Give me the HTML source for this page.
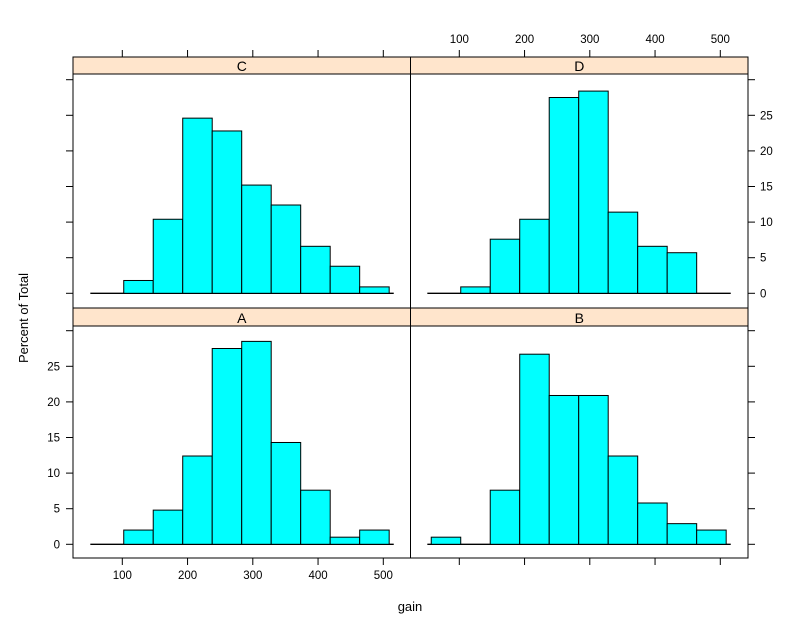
<!DOCTYPE html>
<html><head><meta charset="utf-8">
<style>
html,body{margin:0;padding:0;background:#fff;}
svg{display:block;font-family:"Liberation Sans",Arial,sans-serif;}
</style></head>
<body>
<svg id="chart" width="800" height="637" viewBox="0 0 800 637" xmlns="http://www.w3.org/2000/svg">
<text x="28" y="318" font-size="13" text-anchor="middle" transform="rotate(-90 28 318)">Percent of Total</text>
<text x="410" y="611" font-size="13" text-anchor="middle">gain</text>
</svg>
<script>
const breaks = [57, 102.2, 147.4, 192.6, 237.8, 283, 328.2, 373.4, 418.6, 463.8, 509];
const panelNames = ["C", "D", "A", "B"];
const valuesC = [0, 1.8, 10.4, 24.6, 22.8, 15.2, 12.4, 6.6, 3.8, 0.9];
const valuesD = [0, 0.9, 7.6, 10.4, 27.5, 28.4, 11.4, 6.6, 5.7, 0];
const valuesA = [0, 2.0, 4.8, 12.4, 27.5, 28.5, 14.3, 7.6, 1.0, 2.0];
const valuesB = [1.0, 0, 7.6, 26.7, 20.9, 20.9, 12.4, 5.8, 2.9, 2.0];
const xTicks = [100, 200, 300, 400, 500];
const yTicks = [0, 5, 10, 15, 20, 25, 30];
const yTickLabels = ["0", "5", "10", "15", "20", "25"];

const svg = document.getElementById('chart');
const NS = 'http://www.w3.org/2000/svg';
function mk(tag, attrs, parent) {
  const e = document.createElementNS(NS, tag);
  for (const k in attrs) e.setAttribute(k, attrs[k]);
  (parent || svg).appendChild(e);
  return e;
}
const panels = [
  {name: "C", vals: valuesC, x0: 73, x1: 410.5, sTop: 57, pTop: 74, pBot: 308, zeroY: 293.3},
  {name: "D", vals: valuesD, x0: 410.5, x1: 748, sTop: 57, pTop: 74, pBot: 308, zeroY: 293.3},
  {name: "A", vals: valuesA, x0: 73, x1: 410.5, sTop: 308, pTop: 326, pBot: 558, zeroY: 544.3},
  {name: "B", vals: valuesB, x0: 410.5, x1: 748, sTop: 308, pTop: 326, pBot: 558, zeroY: 544.3}
];
const pxPerUnitX = 0.6525, pxPerUnitY = 7.12;
panels.forEach((p, pi) => {
  const g = mk('g', {});
  
  
  const xBase = (pi % 2 === 0) ? 122.3 : 459.3;
  const xs = v => xBase + (v - 100) * pxPerUnitX;
  const ys = v => p.zeroY - v * pxPerUnitY;
  const strip = mk('rect', {x: p.x0, y: p.sTop, width: p.x1 - p.x0, height: p.pTop - p.sTop, fill: '#ffe5cc', stroke: '#000', 'stroke-width': 1}, g);
  
  
  const st = mk('text', {x: (p.x0 + p.x1) / 2, y: p.pTop - 3, 'font-size': 14, 'text-anchor': 'middle'}, g);
  st.textContent = p.name;
  
  
  const bl = mk('line', {x1: xs(51), x2: xs(516), y1: ys(0), y2: ys(0), stroke: '#000', 'stroke-width': 1.3}, g);
  
  
  p.vals.forEach((v, i) => {
    if (v <= 0) return;
    const r = mk('rect', {x: xs(breaks[i]), y: ys(v), width: xs(breaks[i + 1]) - xs(breaks[i]), height: v * pxPerUnitY, fill: '#00ffff', stroke: '#000', 'stroke-width': 1}, g);
    
    
  });
  const fr = mk('rect', {x: p.x0, y: p.pTop, width: p.x1 - p.x0, height: p.pBot - p.pTop, fill: 'none', stroke: '#000', 'stroke-width': 1}, g);
  
  
  const left = (pi % 2 === 0);
  const topRow = pi < 2;
  yTicks.forEach((t, ti) => {
    const y = ys(t);
    if (y < p.pTop || y > p.pBot) return;
    if (left) {
      mk('line', {x1: p.x0 - 7, x2: p.x0, y1: y, y2: y, stroke: '#000'}, g);
      if (!topRow && ti < yTickLabels.length) {
        const lt = mk('text', {x: p.x0 - 13, y: y + 4, 'font-size': 11.5, 'text-anchor': 'end'}, g);
        lt.textContent = yTickLabels[ti];
        
        
      }
    } else {
      mk('line', {x1: p.x1, x2: p.x1 + 7, y1: y, y2: y, stroke: '#000'}, g);
      if (topRow && ti < yTickLabels.length) {
        const lt = mk('text', {x: p.x1 + 12, y: y + 4, 'font-size': 11.5, 'text-anchor': 'start'}, g);
        lt.textContent = yTickLabels[ti];
        
        
      }
    }
  });
  xTicks.forEach(t => {
    const x = xs(t);
    if (topRow) {
      mk('line', {x1: x, x2: x, y1: p.sTop - 7, y2: p.sTop, stroke: '#000'}, g);
      if (!left) {
        const lt = mk('text', {x: x, y: p.sTop - 14, 'font-size': 11.5, 'text-anchor': 'middle'}, g);
        lt.textContent = String(t);
        
        
      }
    } else {
      mk('line', {x1: x, x2: x, y1: p.pBot, y2: p.pBot + 7, stroke: '#000'}, g);
      if (left) {
        const lt = mk('text', {x: x, y: p.pBot + 21, 'font-size': 11.5, 'text-anchor': 'middle'}, g);
        lt.textContent = String(t);
        
        
      }
    }
  });
});
</script>
</body></html>
